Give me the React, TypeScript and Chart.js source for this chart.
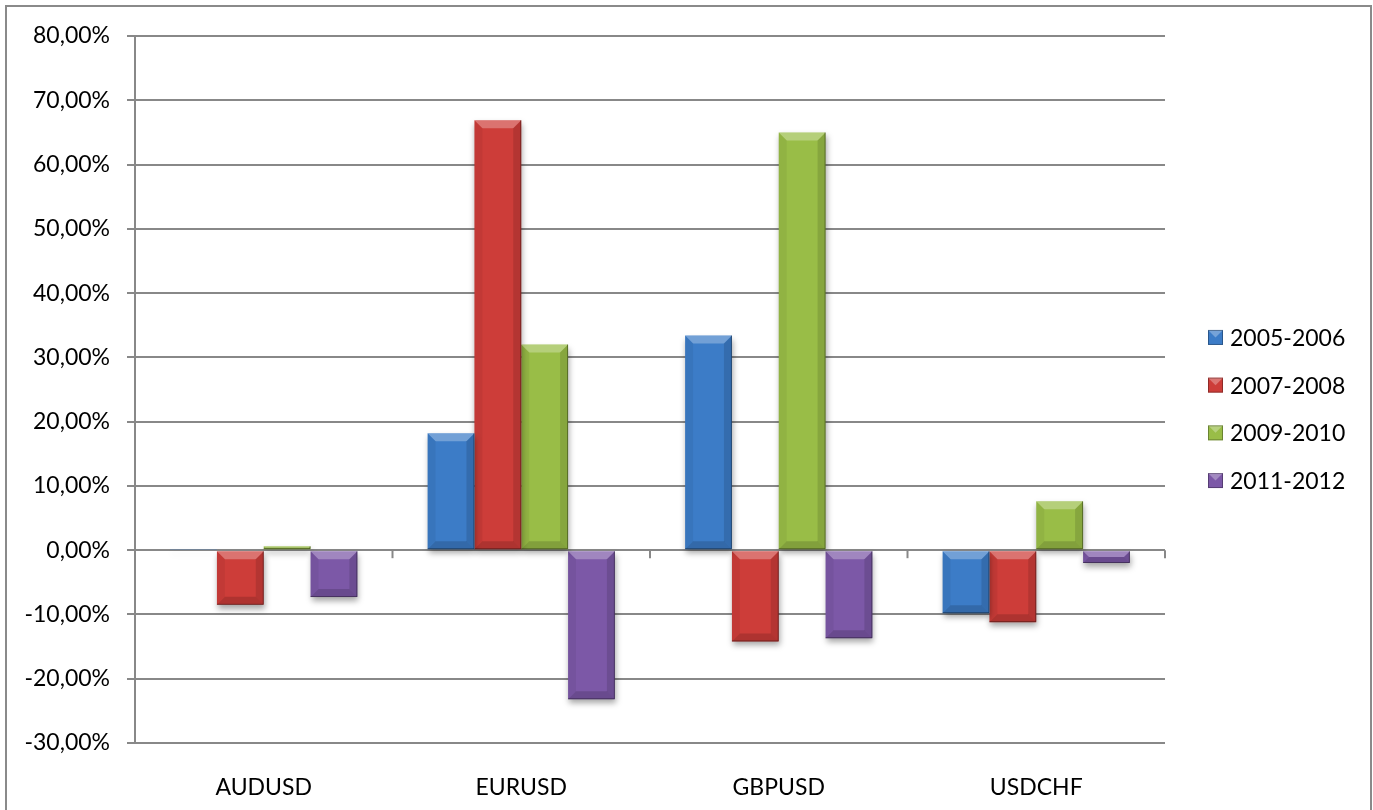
import React, { useEffect, useRef } from "react";
import { Chart, registerables } from "chart.js";

Chart.register(...registerables);

const categories = ["AUDUSD", "EURUSD", "GBPUSD", "USDCHF"];
const seriesLabels = ["2005-2006", "2007-2008", "2009-2010", "2011-2012"];
const s2005 = [0.1, 18.2, 33.4, -9.8];
const s2007 = [-8.5, 66.9, -14.2, -11.2];
const s2009 = [0.6, 32.0, 65.0, 7.6];
const s2011 = [-7.3, -23.2, -13.7, -2.0];
const seriesColors = ["#3c7cc7", "#cd3d39", "#99bd47", "#7c58a7"];
const yMin = -30;
const yMax = 80;
const yStep = 10;

const FONT = "Lato, 'Open Sans', sans-serif";
const FONT_SIZE = 23;

const framePlugin = {
  id: "frame",
  afterDraw(chart: any) {
    const ctx = chart.ctx;
    ctx.save();
    ctx.strokeStyle = "#8a8a8a";
    ctx.lineWidth = 2;
    ctx.strokeRect(6, 6, chart.width - 8, chart.height + 20);
    ctx.restore();
  },
};

const shadowPlugin = {
  id: "barShadow",
  beforeDatasetsDraw(chart: any) {
    const ctx = chart.ctx;
    ctx.save();
    ctx.shadowColor = "rgba(0,0,0,0.35)";
    ctx.shadowBlur = 6;
    ctx.shadowOffsetX = 1;
    ctx.shadowOffsetY = 4;
  },
  afterDatasetsDraw(chart: any) {
    const ctx = chart.ctx;
    ctx.restore();
    chart.data.datasets.forEach((ds: any, di: number) => {
      const meta = chart.getDatasetMeta(di);
      meta.data.forEach((bar: any) => {
        const w = bar.width;
        const left = bar.x - w / 2;
        const right = bar.x + w / 2;
        const top = Math.min(bar.y, bar.base);
        const bottom = Math.max(bar.y, bar.base);
        const h = bottom - top;
        const b = Math.min(8, h / 2, w / 2);
        if (h < 1) return;
        ctx.save();
        ctx.beginPath();
        ctx.moveTo(left, top);
        ctx.lineTo(right, top);
        ctx.lineTo(right - b, top + b);
        ctx.lineTo(left + b, top + b);
        ctx.closePath();
        ctx.fillStyle = "rgba(255,255,255,0.28)";
        ctx.fill();
        ctx.beginPath();
        ctx.moveTo(right, top);
        ctx.lineTo(right, bottom);
        ctx.lineTo(right - b, bottom - b);
        ctx.lineTo(right - b, top + b);
        ctx.closePath();
        ctx.fillStyle = "rgba(0,0,0,0.12)";
        ctx.fill();
        ctx.beginPath();
        ctx.moveTo(left, top);
        ctx.lineTo(left + b, top + b);
        ctx.lineTo(left + b, bottom - b);
        ctx.lineTo(left, bottom);
        ctx.closePath();
        ctx.fillStyle = "rgba(0,0,0,0.05)";
        ctx.fill();
        ctx.beginPath();
        ctx.moveTo(left, bottom);
        ctx.lineTo(left + b, bottom - b);
        ctx.lineTo(right - b, bottom - b);
        ctx.lineTo(right, bottom);
        ctx.closePath();
        ctx.fillStyle = "rgba(0,0,0,0.15)";
        ctx.fill();
        ctx.strokeStyle = "rgba(0,0,0,0.35)";
        ctx.lineWidth = 1;
        ctx.beginPath();
        ctx.moveTo(right - 0.5, top);
        ctx.lineTo(right - 0.5, bottom - 0.5);
        ctx.lineTo(left, bottom - 0.5);
        ctx.stroke();
        ctx.restore();
      });
    });
  },
};

const zeroTicksPlugin = {
  id: "zeroTicks",
  afterDraw(chart: any) {
    const ctx = chart.ctx;
    const xs = chart.scales.x;
    const ys = chart.scales.y;
    const y0 = ys.getPixelForValue(0);
    const n = categories.length;
    const xsPos: number[] = [chart.chartArea.left];
    for (let i = 0; i < n - 1; i++) {
      xsPos.push((xs.getPixelForValue(i) + xs.getPixelForValue(i + 1)) / 2);
    }
    xsPos.push(chart.chartArea.right);
    ctx.save();
    ctx.strokeStyle = "#888888";
    ctx.lineWidth = 2;
    xsPos.forEach((x) => {
      ctx.beginPath();
      ctx.moveTo(x, y0);
      ctx.lineTo(x, y0 + 8);
      ctx.stroke();
    });
    ctx.restore();
  },
};

const legendPlugin = {
  id: "customLegend",
  afterDraw(chart: any) {
    const ctx = chart.ctx;
    const x = chart.chartArea.right + 43;
    const midY = chart.height / 2 + 4;
    const gap = 47.7;
    const n = chart.data.datasets.length;
    ctx.save();
    chart.data.datasets.forEach((ds: any, i: number) => {
      const cy = midY + (i - (n - 1) / 2) * gap;
      const s = 15;
      const top = cy - s / 2;
      ctx.fillStyle = ds.backgroundColor;
      ctx.fillRect(x, top, s, s);
      ctx.beginPath();
      ctx.moveTo(x, top);
      ctx.lineTo(x + s, top);
      ctx.lineTo(x + s / 2, top + s / 2);
      ctx.closePath();
      ctx.fillStyle = "rgba(255,255,255,0.3)";
      ctx.fill();
      ctx.strokeStyle = "rgba(0,0,0,0.3)";
      ctx.lineWidth = 1;
      ctx.strokeRect(x + 0.5, top + 0.5, s - 1, s - 1);
      ctx.fillStyle = "#000";
      ctx.font = `${FONT_SIZE}px ${FONT}`;
      ctx.textBaseline = "middle";
      ctx.textAlign = "left";
      ctx.fillText(ds.label, x + 22, cy + 1);
    });
    ctx.restore();
  },
};

export default function App() {
  const ref = useRef<HTMLCanvasElement | null>(null);
  useEffect(() => {
    if (!ref.current) return;
    const all = [s2005, s2007, s2009, s2011];
    const chart = new Chart(ref.current, {
      type: "bar",
      data: {
        labels: categories,
        datasets: all.map((d, i) => ({
          label: seriesLabels[i],
          data: d,
          backgroundColor: seriesColors[i],
          borderWidth: 0,
          categoryPercentage: 4 / 5.5,
          barPercentage: 1,
        })),
      },
      options: {
        animation: false,
        responsive: true,
        maintainAspectRatio: false,
        layout: { padding: { left: 0, top: 36, right: 208, bottom: 0 } },
        plugins: {
          legend: { display: false },
          tooltip: { enabled: false },
        },
        scales: {
          x: {
            grid: { display: false },
            border: { display: false },
            ticks: {
              color: "#000",
              font: { family: FONT, size: FONT_SIZE },
              padding: 23,
            },
            afterFit: (s: any) => {
              s.height = 67;
            },
          },
          y: {
            min: yMin,
            max: yMax,
            grid: { color: "#888888", lineWidth: 2, tickLength: 8 },
            border: { display: true, color: "#888888", width: 2 },
            ticks: {
              stepSize: yStep,
              color: "#000",
              font: { family: FONT, size: FONT_SIZE },
              padding: 17,
              callback: (v: any) => Number(v).toFixed(2).replace(".", ",") + "%",
            },
            afterFit: (s: any) => {
              s.width = 135;
            },
          },
        },
      },
      plugins: [shadowPlugin, zeroTicksPlugin, legendPlugin, framePlugin],
    });
    return () => chart.destroy();
  }, []);
  return (
    <div style={{ position: "absolute", left: 0, top: 0, width: 1373, height: 810, background: "#fff" }}>
      <canvas ref={ref} />
    </div>
  );
}
